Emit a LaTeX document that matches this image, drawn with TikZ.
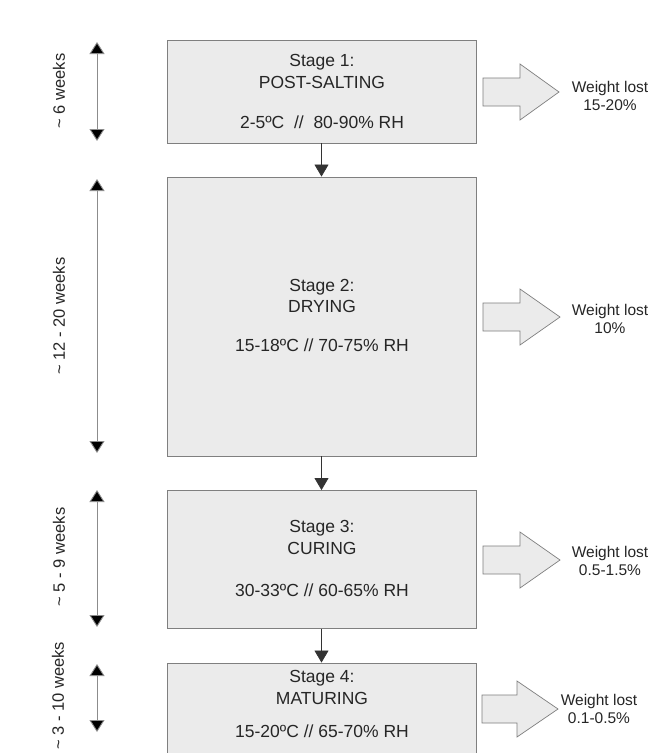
\documentclass[tikz,border=0pt]{standalone}
\usepackage{fontspec}
\setmainfont{Liberation Sans}
\usetikzlibrary{arrows.meta}
\definecolor{boxfill}{HTML}{EBEBEB}
\definecolor{boxline}{HTML}{7F7F7F}
\definecolor{dimline}{HTML}{8C8C8C}
\begin{document}
\begin{tikzpicture}[x=1pt,y=-1pt,
  stagebox/.style={draw=boxline, line width=0.9pt, fill=boxfill, minimum width=309pt, inner sep=0pt},
  boxtext/.style={font=\fontsize{17.5}{20}\selectfont, text=black!85, inner sep=0pt, anchor=center},
  flowarrow/.style={draw=black!80, line width=0.7pt, -{Triangle[length=12pt,width=14pt]}},
  durarrow/.style={draw=dimline, line width=0.9pt, {Triangle[length=12pt,width=15pt,fill=black]}-{Triangle[length=12pt,width=15pt,fill=black]}},
  durlabel/.style={font=\fontsize{16.5}{19}\selectfont, text=black!85, rotate=90, inner sep=0pt},
  loss/.style={draw=boxline, line width=0.7pt, fill=boxfill},
  losstext/.style={font=\fontsize{15.5}{18}\selectfont, text=black!85, align=center, inner sep=0pt}
]
\useasboundingbox (0,0) rectangle (652,753);
\fill[white] (0,0) rectangle (652,753);
\clip (0,0) rectangle (652,753);

% stage boxes
\node[stagebox, minimum height=103pt] (s1) at (321.5,91.5) {};
\node[stagebox, minimum height=279pt] (s2) at (321.5,316.5) {};
\node[stagebox, minimum height=138pt] (s3) at (321.5,559.5) {};
\node[stagebox, minimum height=110pt] (s4) at (321.5,718) {};

% box texts
\node[boxtext] (s1a) at (322,62) {Stage 1:};
\node[boxtext] (s1b) at (322,82) {POST-SALTING};
\node[boxtext] (s1c) at (322,122) {2-5ºC \ //\ \ 80-90\% RH};
\node[boxtext] (s2a) at (322,287) {Stage 2:};
\node[boxtext] (s2b) at (322,306) {DRYING};
\node[boxtext] (s2c) at (322,345) {15-18ºC // 70-75\% RH};
\node[boxtext] (s3a) at (322,528) {Stage 3:};
\node[boxtext] (s3b) at (322,548) {CURING};
\node[boxtext] (s3c) at (322,590) {30-33ºC // 60-65\% RH};
\node[boxtext] (s4a) at (322,678) {Stage 4:};
\node[boxtext] (s4b) at (322,698) {MATURING};
\node[boxtext] (s4c) at (322,731) {15-20ºC // 65-70\% RH};

% flow arrows
\draw[flowarrow] (s1.south) -- (s2.north);
\draw[flowarrow] (s2.south) -- (s3.north);
\draw[flowarrow] (s3.south) -- (s4.north);

% duration arrows
\coordinate (d1t) at (97,42);  \coordinate (d1b) at (97,141);
\coordinate (d2t) at (97,179); \coordinate (d2b) at (97,453);
\coordinate (d3t) at (97,490); \coordinate (d3b) at (97,627);
\coordinate (d4t) at (97,664); \coordinate (d4b) at (97,732);
\draw[durarrow] (d1t) -- (d1b);
\draw[durarrow] (d2t) -- (d2b);
\draw[durarrow] (d3t) -- (d3b);
\draw[durarrow] (d4t) -- (d4b);
\node[durlabel] (l1) at (59,91) {\textasciitilde\ 6 weeks};
\node[durlabel] (l2) at (59,316) {\textasciitilde\ 12 - 20 weeks};
\node[durlabel] (l3) at (59,557) {\textasciitilde\ 5 - 9 weeks};
\node[durlabel] (l4) at (58,696) {\textasciitilde\ 3 - 10 weeks};

% weight loss block arrows
\foreach \n/\cy/\xs/\xm/\xt in {1/92/483/520/559, 2/317/483/520/560, 3/560/483/520/560, 4/709/482/517/558}{
  \draw[loss] (\xs,\cy-14) -- (\xm,\cy-14) -- (\xm,\cy-28) -- (\xt,\cy) -- (\xm,\cy+28) -- (\xm,\cy+14) -- (\xs,\cy+14) -- cycle;
  \coordinate (w\n) at (\xt,\cy);
}
\node[losstext] (t1) at (610,96) {Weight lost\\15-20\%};
\node[losstext] (t2) at (610,319) {Weight lost\\10\%};
\node[losstext] (t3) at (610,561) {Weight lost\\0.5-1.5\%};
\node[losstext] (t4) at (599,709) {Weight lost\\0.1-0.5\%};
\end{tikzpicture}
\end{document}
